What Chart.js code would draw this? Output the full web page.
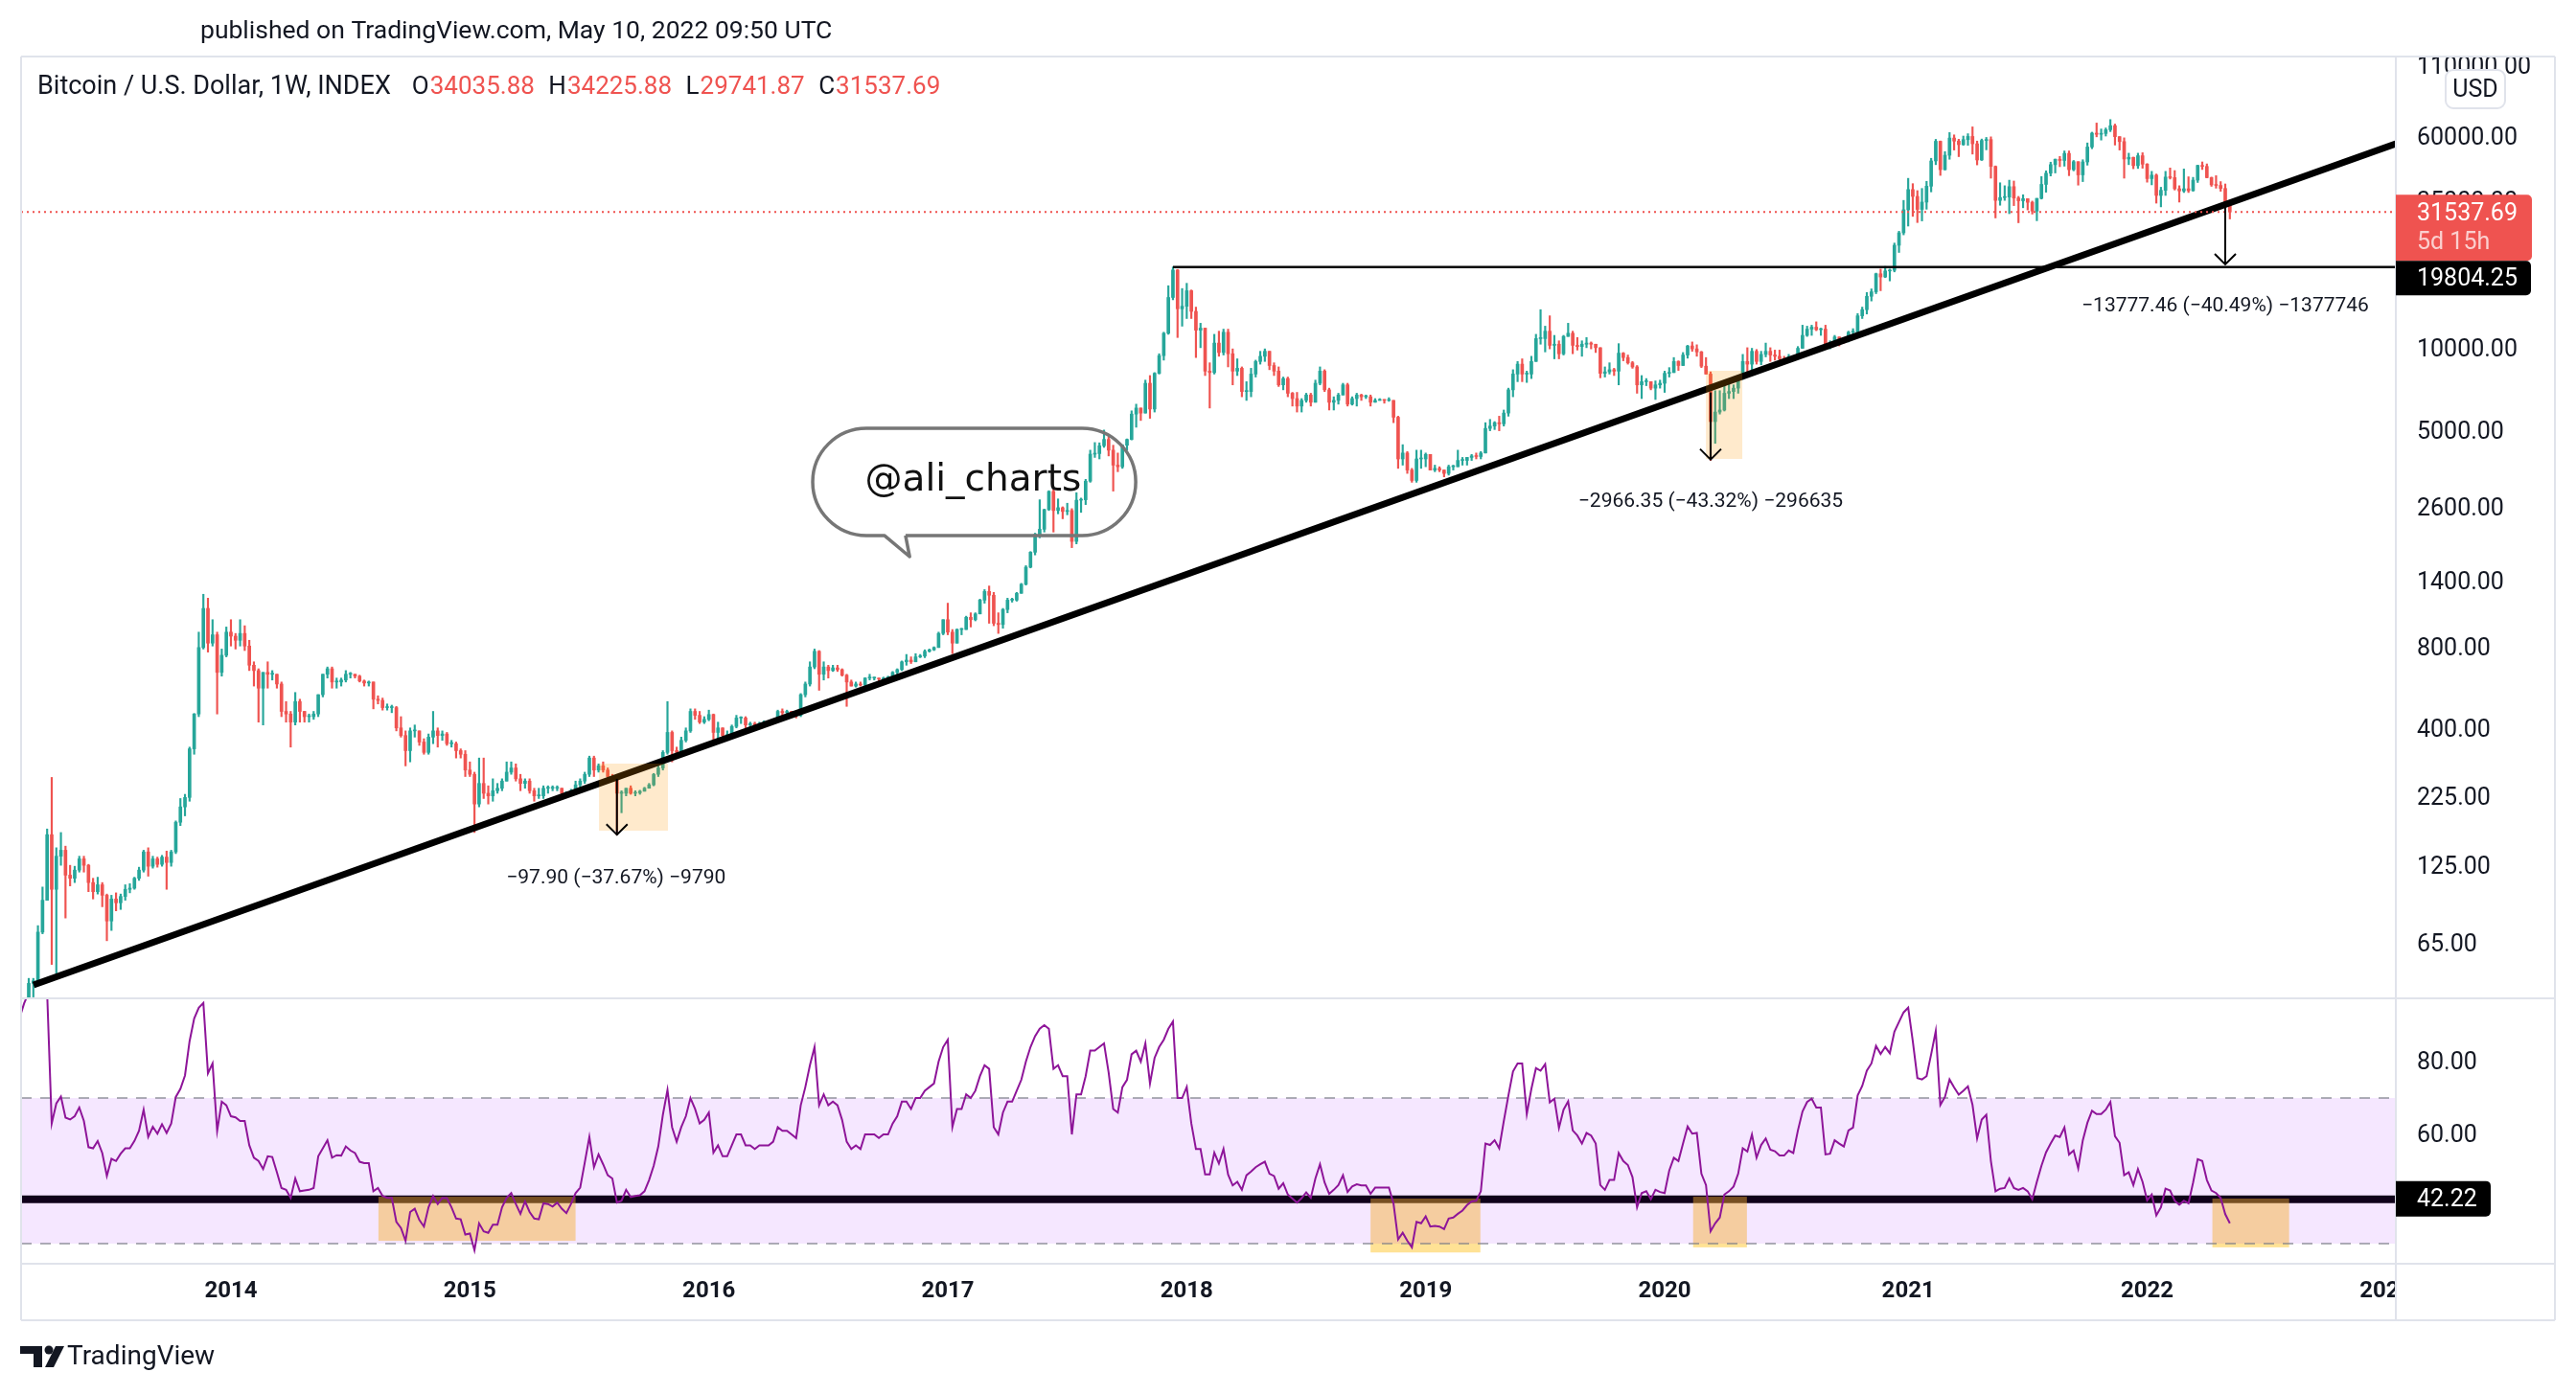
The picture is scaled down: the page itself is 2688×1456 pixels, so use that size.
<!DOCTYPE html>
<html>
<head>
<meta charset="utf-8">
<title>BTCUSD 1W</title>
<script src="https://cdn.jsdelivr.net/npm/chart.js@4.4.1/dist/chart.umd.min.js"></script>
<style>
  html, body { margin: 0; padding: 0; background: #fff; }
  #wrap { position: relative; width: 2688px; height: 1456px; }
  canvas { position: absolute; left: 0; }
  #price { top: 0; }
  #rsi { top: 1043px; }
</style>
</head>
<body>
<div id="wrap">
  <canvas id="price" width="2688" height="1043"></canvas>
  <canvas id="rsi" width="2688" height="413"></canvas>
</div>
<script>
// weekly candles, week 0 = 2013-03-04 ... week 479 = 2022-05-09
// open of a week = close of the week before
var firstOpen = 40;
var closes = [
  46,47,71,93,162,102,135,142,115,112,120,132,125,108,100,106,97,78,94,91,96,102,103,112,120,140,124,132,126,134,128,140,180,205,222,335,450,790,1100,820,880,640,740,900,
  870,840,890,800,680,650,560,640,630,630,580,460,450,420,500,460,440,440,450,530,630,660,590,590,600,630,630,620,595,585,590,510,505,475,475,475,400,375,330,390,390,355,325,370,390,375,380,350,350,330,320,280,
  270,210,250,230,225,235,240,255,275,285,260,250,255,235,225,225,240,240,240,240,230,232,233,247,255,270,310,280,290,280,265,260,230,230,240,230,231,234,240,247,270,285,325,385,330,325,360,390,460,445,420,430,
  448,385,400,375,375,405,435,435,410,415,410,415,420,420,430,460,455,460,455,445,530,580,670,765,630,670,650,665,655,625,590,570,580,575,610,610,610,605,610,615,640,655,700,710,700,730,735,765,775,790,890,1000,
  900,820,920,920,1020,1000,1050,1180,1270,1230,970,960,1090,1180,1180,1250,1350,1560,1770,2060,2150,2540,2960,2520,2580,2500,2520,1940,2750,2760,3230,4060,4080,4360,4600,4200,3700,3650,4380,4600,5700,6000,5750,7400,5950,8050,9350,11300,15300,19300,13900,14200,
  16200,13600,11600,11800,8200,8100,10400,9600,11400,9500,8200,8400,6900,6900,8000,8900,9300,9700,8600,8200,7300,7700,6800,6500,6100,6400,6700,6300,7400,8200,7000,6300,6400,6700,7300,6200,6500,6700,6600,6600,6300,6400,6450,6400,6400,5550,3900,4100,3550,3250,3900,3900,4050,
  3550,3600,3550,3450,3650,3650,3850,3850,3950,4000,3980,4100,5050,5150,5300,5250,5750,7000,8000,8700,8000,8000,8900,10800,10800,11500,10200,10300,9500,11000,11300,10200,10100,10300,10400,10300,10000,8050,8150,8300,8200,9550,9200,8800,8500,7300,7500,7500,7100,7300,7400,8050,
  8100,8900,8600,9400,10150,9900,9650,8550,8000,5350,5800,5900,6800,6900,7100,7700,8900,8700,9700,8900,9450,9700,9400,9300,9100,9050,9250,9200,9950,11100,11700,11900,11650,11700,10250,10350,10950,10750,10700,11400,11400,13100,13800,15450,16050,18700,18200,19150,19250,23800,26450,32150,
  38150,36000,32250,34300,39250,48600,57400,45150,51000,59000,57500,55800,58200,59800,56200,49000,57800,58250,46400,34800,35650,35800,39100,35500,34700,35300,34250,31800,35400,39850,43800,47100,49300,48800,51800,45150,48300,43200,48200,54700,61500,60900,61300,63300,65500,59700,57250,49400,50100,46700,50800,47300,
  41850,43100,36300,37900,42400,42200,38400,37700,38400,37800,41300,46800,46400,42200,39700,39500,38500,34035.88,31537.69
];
var highs = [
  48,48,75,104,170,263,145,165,147,125,124,135,135,126,112,113,108,98,97,99,98,106,107,113,123,142,145,135,134,136,141,142,182,220,228,340,452,900,1240,1200,1000,900,780,940,
  1000,890,1000,950,840,700,660,640,700,650,630,590,500,460,540,510,460,450,460,530,630,670,670,610,610,650,640,630,625,600,595,590,525,515,490,485,480,440,390,400,410,390,365,380,460,400,390,385,360,355,335,330,
  300,275,310,310,245,260,250,260,300,300,295,270,260,260,240,240,245,245,245,245,240,233,238,255,260,275,315,315,295,300,285,270,265,235,240,245,235,236,242,250,272,290,330,500,390,340,370,400,470,470,460,440,
  465,450,420,400,390,410,445,440,440,420,420,420,425,425,432,465,470,465,460,455,535,590,700,780,770,700,680,680,680,660,630,600,590,590,612,630,615,610,615,620,645,660,705,745,730,750,745,775,780,795,900,1000,
  1150,920,925,930,1030,1060,1060,1190,1290,1330,1260,1060,1100,1200,1200,1260,1360,1580,1780,2080,2760,2550,2980,3000,2780,2600,2680,2560,2930,2800,3280,4200,4480,4470,4980,4700,4380,4100,4400,4620,5860,6200,6000,7600,7900,8100,9500,11400,16900,19804,19400,16500,
  17250,16300,14100,12300,11800,8800,11200,11500,11700,11700,9900,9100,8500,7500,8400,9000,9700,9900,9600,8800,8500,7800,7800,6850,6850,6500,6800,6800,7600,8500,8300,7100,6600,6800,7400,7400,6600,6800,6750,6700,6700,6500,6500,6450,6550,6400,5600,4400,4150,3600,4200,4200,4100,
  4050,3700,3650,3550,3700,3700,4200,3950,3950,4050,4100,4150,5300,5450,5350,5600,5900,7100,8300,8900,9100,8200,9300,11200,13800,12000,13100,11100,10600,11100,12300,11500,10900,10600,10900,10500,10300,10000,8500,8800,8400,10350,9600,9400,8900,8600,7900,7700,7500,7550,7600,8200,
  8450,9200,8950,9600,10200,10500,10250,9700,9200,8150,6950,6950,7300,7450,7300,7800,9450,10000,9950,9850,9700,10400,10000,9800,9800,9300,9450,9300,10100,12100,12000,12100,12450,11800,12100,10600,11100,10800,10900,11500,11750,13350,14100,15950,16450,18800,19450,19900,19450,24250,26800,34800,
  41950,40100,37800,38500,40900,49700,58350,57550,52600,61800,60600,58400,60000,61200,64850,57500,58500,59300,59600,46600,40400,39400,41300,41000,36000,36500,35100,34600,35400,42600,44700,48100,49400,50500,52900,52900,48800,48300,49100,56600,62000,67000,63700,64250,69000,66400,59500,59100,51900,50200,51900,52100,
  47550,44500,43500,38900,44500,45800,44800,39400,45400,42500,42300,46900,48200,47400,42400,42900,40800,40000,34225.88
];
var lows = [
  38,41,47,70,93,54,50,125,80,105,108,118,118,100,94,98,88,66,72,85,86,93,99,102,110,118,114,122,123,124,102,124,138,175,190,215,320,440,780,760,800,450,620,730,
  800,780,800,770,650,570,420,410,560,600,560,440,420,340,410,420,420,420,430,440,520,610,560,560,570,590,610,610,590,570,570,470,490,465,465,455,390,370,290,300,370,345,320,320,350,340,360,345,340,310,310,265,
  265,165,205,220,210,215,230,235,255,270,255,235,240,230,215,220,220,230,235,235,225,222,228,230,240,250,265,265,275,275,260,255,162,195,225,228,225,228,235,240,245,265,280,320,300,315,315,355,385,430,415,415,
  425,360,365,365,365,370,400,415,400,400,405,410,410,415,420,430,440,440,445,435,440,520,570,660,550,600,610,645,645,620,480,570,565,570,570,600,600,590,600,605,615,630,650,680,690,700,725,725,760,770,790,880,
  880,750,830,880,920,940,990,1050,1150,970,950,890,930,1060,1160,1170,1250,1340,1550,1730,2000,2100,2520,2100,2450,2350,2430,1840,1900,2480,2650,3200,3950,3900,4300,4000,2970,3500,3600,4200,4580,5100,5400,6100,5500,5800,8000,9000,11200,15000,10900,12000,
  12800,12800,9200,10000,7900,6000,8000,9300,9400,8500,7300,7900,6600,6400,6600,7800,8700,8900,8300,7900,7200,7000,6600,6100,5800,5800,6300,6100,6300,7300,6900,5900,5900,6200,6700,6100,6150,6100,6400,6500,6100,6300,6400,6250,6350,5300,3600,3700,3450,3200,3200,3600,3650,
  3550,3500,3500,3350,3400,3550,3650,3700,3700,3850,3900,3900,4100,4950,5000,4950,5150,5600,6600,7500,7500,7450,7700,8950,10300,9650,9900,9100,9100,9400,11200,9500,9800,9300,10000,9900,9600,7750,7800,8000,7900,7300,8950,8700,8400,6800,6500,7250,7000,6450,7100,6850,
  7800,8100,8250,8600,9150,9700,9300,8450,8000,3850,4450,5700,5850,6500,6500,6800,7650,8100,8200,8700,8650,9250,8900,9000,8850,8900,9000,9050,9150,9950,11000,11100,11550,11100,9900,9900,10200,10150,10400,10500,11200,11300,12800,13300,14850,15800,16200,18100,17600,19000,22400,26000,
  28000,30400,28850,29250,32300,37400,47100,43000,45000,49300,53300,50400,55500,55500,51500,47000,48800,53400,42000,30000,33400,34800,31100,33300,28800,32700,32100,31000,29300,35200,37300,42800,43900,46300,46500,42900,44700,39600,40800,46900,53900,59600,58000,60000,62300,55600,53300,42000,47100,45500,45600,45700,
  40600,39700,34000,32950,36300,41700,38000,34300,37200,37200,37600,40500,45200,42100,39200,38600,37600,33700,29741.87
];

var rsiFirstWeek = -2;
var rsiValues = [
  92,96,99,99,99,99,99,
  63,68.5,70.4,64.6,64.1,65,67.4,63.7,56.5,56.2,58.2,54.9,48.6,53.3,52.7,54.7,56.2,56.2,58.2,61,
  66.8,59.3,62.1,60.2,62.8,60.4,63,70.3,72.5,76.2,85.6,91.8,94.8,96.1,76.8,79.5,61,69,68,65,
  64.7,63.7,63.7,57,53.6,52.7,50.5,54,53.8,49.6,45.3,44.8,42.6,47.9,44.4,44.6,44.8,45.3,54,56.2,
  58.4,53.6,54.3,54.2,56.7,55.6,54.9,52.5,52.1,52.1,44.4,45.3,43.1,42.6,42.6,36,34.3,30.8,38.7,39.6,
  36.5,34.7,40,43.1,40.9,42.6,42.5,40,36.9,36.7,32.5,32.8,28.2,35.6,33.4,33,35.2,35.2,40,42.6,
  43.9,40.9,38.2,41.6,38.7,36.9,36.7,41.1,40.9,40.2,41.3,39.6,38.4,40.9,43.9,45.4,52.3,59.3,51,54.5,
  51.8,48.8,47.9,41.3,41.8,44.8,42.8,43.1,43.3,44.4,47.5,51.4,56.7,65.4,72.2,
  62,58,62,65,70,67,63,64,66,55,57,54,54,57,60,60,57,57,56,57,
  57,57,58,62,61,61,60,59,68,73,79,84,68,71,68,69,68,64,58,56,
  57,56,60,60,60,59,60,60,63,65,69,69,67,70,70,72,73,74,80,84,
  86,62,67,67,71,70,72,76,79,78,62,60,66,69,69,72,75,80,84,87,
  89,90,89,78,79,76,76,60,71,71,76,83,83,84,85,77,67,66,73,75,
  82,83,80,85,74,81,84,86,89,91,70,70,73,63,56,56,49,49,55,52,
  56,49,46,47,
  44.8,48.8,49.8,51,51.8,52.5,49.2,48.6,45.1,46.6,43.5,42.4,41.3,42.5,44.1,42.6,47.9,51.8,46.8,43.7,
  44.8,46.1,48.8,44.2,45.7,46.3,46,46,43.7,45.4,45.4,45.4,45.4,41,31.2,33,30.8,29,36,35.6,
  37.5,34.7,34.9,34.7,34,36.9,37.2,38.2,39.1,40.6,41.6,41.8,44.4,57.5,57.1,58.4,56.2,63.7,70.7,77.3,
  79.5,79.5,65.6,72.5,78.2,77.5,79.3,68.8,69.8,61.8,66.8,69.1,61.1,59.7,57.5,60.4,59.7,57.5,46.1,44.8,
  47.5,47.5,54.9,52.7,51.6,48.3,40,43.9,44.4,42.2,44.8,44.2,43.9,50.1,53.6,52.7,57.5,62.2,60.2,60.4,
  49.2,46.1,33.4,35.6,37.2,43.5,44.4,45.7,49.2,56.2,55.3,60,53.6,57.1,58.9,55.8,55.4,54.2,54.2,55.6,
  54.9,61.1,66.3,68.9,69.8,67.4,67.4,54.5,54.7,58.4,57.5,56.7,61.1,61.9,70.7,73.3,77.5,79.5,84.3,82.1,
  84,82.3,88.2,90.9,93.5,94.8,85.6,75.5,75.1,76,82,88.4,68.1,70.3,75.1,72.9,70.9,72,73.2,68.1,
  58.9,64.1,65.4,52.7,44.4,45.1,45.3,47.9,45.3,44.8,45.3,44.4,42.2,47,51.4,55.1,57.5,59.7,59.3,61.9,
  54.5,55.6,50.7,58.4,63.2,66.5,65.6,65.6,66.8,68.9,59.5,57.7,48.8,49.6,46.1,50.5,47,41.9,43.5,37.8,
  40,45.1,44.6,41.8,40.7,41.8,41.1,46.8,53.2,52.7,47.5,44.6,43.9,42.6,38.1,35.6
];

// axis ticks
var yearTickWeeks = [44, 96, 148, 200, 252, 304, 356, 409, 461, 513];
var yearTickLabels = ['2014', '2015', '2016', '2017', '2018', '2019', '2020', '2021', '2022', '2023'];
var priceTicks = [65, 125, 225, 400, 800, 1400, 2600, 5000, 10000, 35000, 60000, 110000];
var rsiTicks = [60, 80];

// drawings (week index, price)
var trendLine = [{x: 1.04, y: 45.4}, {x: 515.12, y: 56200}];
var peakLevel = 19804.25;
var peakLine = [{x: 249, y: peakLevel}, {x: 515.12, y: peakLevel}];
var priceBoxes = [[124.1, 139.1, 295.7, 167.6], [365.0, 372.9, 8225, 3901]];
var rangeArrows = [[128, 259.9, 162.0], [366, 6847.5, 3881.2], [478, 34026, 20249]];
var rangeTexts = [
  [127.8, 111.8, '\u221297.90 (\u221237.67%) \u22129790'],
  [366, 2707, '\u22122966.35 (\u221243.32%) \u2212296635'],
  [478, 14160, '\u221213777.46 (\u221240.49%) \u22121377746']
];
var callout = {left: 170.6, right: 240.9, top: 5056, bottom: 2039, tailL: 186.2, tailR: 190.8, tipX: 191.7, tipY: 1705, textX: 205.5, textY: 3236, text: '@ali_charts'};
var rsiLevel = 42.22;
var rsiBoxes = [[76.1, 119.0, 42.9, 30.8], [292.0, 315.9, 42.4, 27.6], [362.2, 373.9, 42.9, 29.0], [475.2, 491.9, 42.4, 29.0]];

var xMin = -1.668, xMax = 515.12;
var GRID = '#e0e3eb', TXT = '#131722', UP = '#26a69a', DOWN = '#ef5350';
var FONT = 'Roboto, "Liberation Sans", sans-serif';
Chart.defaults.font.family = FONT;

var opens = closes.map(function (c, i) { return i === 0 ? firstOpen : closes[i - 1]; });
var candleColor = closes.map(function (c, i) { return c >= opens[i] ? UP : DOWN; });
var wickData = closes.map(function (c, i) {
  return {x: i, y: [Math.min(lows[i], opens[i], c), Math.max(highs[i], opens[i], c)]};
});
var bodyData = closes.map(function (c, i) { return {x: i, y: [opens[i], c]}; });
var rsiData = rsiValues.map(function (v, k) { return {x: rsiFirstWeek + k, y: v}; });
var last = closes.length - 1;

function line(ctx, x0, y0, x1, y1) { ctx.beginPath(); ctx.moveTo(x0, y0); ctx.lineTo(x1, y1); ctx.stroke(); }
function rbox(ctx, x, y, w, h, r) {
  ctx.beginPath();
  ctx.moveTo(x, y); ctx.lineTo(x + w - r, y); ctx.arcTo(x + w, y, x + w, y + r, r);
  ctx.lineTo(x + w, y + h - r); ctx.arcTo(x + w, y + h, x + w - r, y + h, r);
  ctx.lineTo(x, y + h); ctx.closePath();
}

var pricePlugin = {
  id: 'pricePlugin',
  afterDatasetsDraw: function (chart) {
    var ctx = chart.ctx, a = chart.chartArea, xs = chart.scales.x, ys = chart.scales.y;
    ctx.save();
    ctx.beginPath(); ctx.rect(a.left, a.top, a.right - a.left, a.bottom - a.top); ctx.clip();

    ctx.fillStyle = 'rgba(255,152,0,0.2)';
    priceBoxes.forEach(function (b) {
      var x0 = xs.getPixelForValue(b[0]), x1 = xs.getPixelForValue(b[1]);
      var y0 = ys.getPixelForValue(b[2]), y1 = ys.getPixelForValue(b[3]);
      ctx.fillRect(x0, y0, x1 - x0, y1 - y0);
    });

    // last price line
    var py = ys.getPixelForValue(closes[last]);
    ctx.strokeStyle = DOWN; ctx.lineWidth = 2; ctx.setLineDash([2, 4]);
    line(ctx, a.left, py, a.right, py);
    ctx.setLineDash([]);

    // price range arrows
    ctx.strokeStyle = '#000'; ctx.lineWidth = 2;
    rangeArrows.forEach(function (r) {
      var x = xs.getPixelForValue(r[0]), y0 = ys.getPixelForValue(r[1]), y1 = ys.getPixelForValue(r[2]);
      line(ctx, x, y0, x, y1);
      ctx.beginPath(); ctx.moveTo(x - 11, y1 - 11); ctx.lineTo(x, y1); ctx.lineTo(x + 11, y1 - 11); ctx.stroke();
    });

    ctx.fillStyle = TXT; ctx.font = '21px ' + FONT; ctx.textAlign = 'center'; ctx.textBaseline = 'middle';
    rangeTexts.forEach(function (t) {
      ctx.fillText(t[2], xs.getPixelForValue(t[0]), ys.getPixelForValue(t[1]));
    });

    // callout bubble
    var c = callout;
    var x0 = xs.getPixelForValue(c.left), x1 = xs.getPixelForValue(c.right);
    var y0 = ys.getPixelForValue(c.top), y1 = ys.getPixelForValue(c.bottom);
    var r = (y1 - y0) / 2;
    var bl = xs.getPixelForValue(c.tailL), br = xs.getPixelForValue(c.tailR);
    ctx.strokeStyle = '#767676'; ctx.lineWidth = 3.5; ctx.lineJoin = 'round';
    ctx.beginPath();
    ctx.moveTo(br, y1);
    ctx.lineTo(x1 - r, y1);
    ctx.arc(x1 - r, y0 + r, r, Math.PI / 2, -Math.PI / 2, true);
    ctx.lineTo(x0 + r, y0);
    ctx.arc(x0 + r, y0 + r, r, -Math.PI / 2, Math.PI / 2, true);
    ctx.lineTo(bl, y1);
    ctx.lineTo(xs.getPixelForValue(c.tipX), ys.getPixelForValue(c.tipY));
    ctx.lineTo(br, y1);
    ctx.stroke();
    ctx.fillStyle = '#111';
    ctx.font = '39px "DejaVu Sans", sans-serif';
    ctx.fillText(c.text, xs.getPixelForValue(c.textX), ys.getPixelForValue(c.textY));
    ctx.restore();
  },
  afterDraw: function (chart) {
    var ctx = chart.ctx, a = chart.chartArea, ys = chart.scales.y;
    ctx.save();
    ctx.strokeStyle = GRID; ctx.lineWidth = 2;
    line(ctx, 22, 59, 2666, 59);
    line(ctx, 22, 59, 22, 1043);
    line(ctx, a.right, 59, a.right, 1043);
    line(ctx, 2666, 59, 2666, 1043);
    line(ctx, 22, 1042, 2666, 1042);

    ctx.textBaseline = 'middle'; ctx.textAlign = 'left';
    ctx.fillStyle = TXT; ctx.font = '26.5px ' + FONT;
    ctx.fillText('published on TradingView.com, May 10, 2022 09:50 UTC', 209, 33);

    // legend line
    var x = 39;
    var head = 'Bitcoin / U.S. Dollar, 1W, INDEX';
    ctx.font = '27px ' + FONT;
    ctx.fillText(head, x, 91);
    x += ctx.measureText(head).width + 22;
    ctx.font = '26px ' + FONT;
    var parts = [['O', opens[last]], ['H', highs[last]], ['L', lows[last]], ['C', closes[last]]];
    parts.forEach(function (p) {
      ctx.fillStyle = TXT; ctx.fillText(p[0], x, 91);
      x += ctx.measureText(p[0]).width + 1;
      var s = p[1].toFixed(2);
      ctx.fillStyle = DOWN; ctx.fillText(s, x, 91);
      x += ctx.measureText(s).width + 14.5;
    });

    // axis labels
    var py = ys.getPixelForValue(closes[last]);
    ctx.font = '25px ' + FONT;
    ctx.fillStyle = DOWN; rbox(ctx, a.right, py - 18, 142, 69, 5); ctx.fill();
    ctx.fillStyle = '#fff'; ctx.fillText(closes[last].toFixed(2), 2522, py + 2);
    ctx.fillStyle = 'rgba(255,255,255,0.72)'; ctx.fillText('5d 15h', 2522, py + 32);
    ctx.fillStyle = '#000'; rbox(ctx, a.right, py + 51, 141, 36, 5); ctx.fill();
    ctx.fillStyle = '#fff'; ctx.fillText(peakLevel.toFixed(2), 2522, py + 70);

    // currency badge
    ctx.fillStyle = '#fff'; ctx.strokeStyle = GRID; ctx.lineWidth = 2;
    ctx.beginPath(); ctx.moveTo(2560, 73); ctx.arcTo(2614, 73, 2614, 113, 8); ctx.arcTo(2614, 113, 2552, 113, 8);
    ctx.arcTo(2552, 113, 2552, 73, 8); ctx.arcTo(2552, 73, 2614, 73, 8); ctx.closePath();
    ctx.fill(); ctx.stroke();
    ctx.fillStyle = TXT; ctx.textAlign = 'center'; ctx.fillText('USD', 2583, 95);
    ctx.restore();
  }
};

var rsiPlugin = {
  id: 'rsiPlugin',
  beforeDatasetsDraw: function (chart) {
    var ctx = chart.ctx, a = chart.chartArea, xs = chart.scales.x, ys = chart.scales.y;
    ctx.save();
    ctx.beginPath(); ctx.rect(a.left, a.top, a.right - a.left, a.bottom - a.top); ctx.clip();
    var ly = ys.getPixelForValue(rsiLevel);
    ctx.strokeStyle = '#000'; ctx.lineWidth = 8;
    line(ctx, a.left, ly, a.right, ly);
    ctx.fillStyle = 'rgba(255,190,20,0.45)';
    rsiBoxes.forEach(function (b) {
      var x0 = xs.getPixelForValue(b[0]), x1 = xs.getPixelForValue(b[1]);
      var y0 = ys.getPixelForValue(b[2]), y1 = ys.getPixelForValue(b[3]);
      ctx.fillRect(x0, y0, x1 - x0, y1 - y0);
    });
    var y70 = ys.getPixelForValue(70), y30 = ys.getPixelForValue(30);
    ctx.fillStyle = 'rgba(153,21,255,0.1)';
    ctx.fillRect(a.left, y70, a.right - a.left, y30 - y70);
    ctx.strokeStyle = 'rgba(120,123,134,0.6)'; ctx.lineWidth = 2; ctx.setLineDash([11, 9]);
    line(ctx, a.left, y70, a.right, y70);
    line(ctx, a.left, y30, a.right, y30);
    ctx.restore();
  },
  afterDraw: function (chart) {
    var ctx = chart.ctx, a = chart.chartArea, ys = chart.scales.y;
    ctx.save();
    // hide the part of the last year label under the price scale
    ctx.fillStyle = '#fff';
    ctx.fillRect(a.right + 1, a.bottom + 1, 2665 - a.right - 1, 57);
    ctx.strokeStyle = GRID; ctx.lineWidth = 2;
    line(ctx, 22, 0, 22, 335);
    line(ctx, a.right, 0, a.right, 335);
    line(ctx, 2666, 0, 2666, 335);
    line(ctx, 22, a.bottom, 2666, a.bottom);
    line(ctx, 22, 335, 2666, 335);

    var ly = ys.getPixelForValue(rsiLevel);
    ctx.fillStyle = '#000'; rbox(ctx, a.right, ly - 19, 99, 37, 5); ctx.fill();
    ctx.fillStyle = '#fff'; ctx.font = '25px ' + FONT; ctx.textBaseline = 'middle'; ctx.textAlign = 'left';
    ctx.fillText(rsiLevel.toFixed(2), 2522, ly + 1);

    // TradingView logo
    var oy = -1043;
    ctx.fillStyle = TXT;
    ctx.fillRect(21, 1405 + oy, 23, 8);
    ctx.fillRect(35, 1405 + oy, 9, 22);
    ctx.beginPath(); ctx.arc(51, 1409 + oy, 4.5, 0, Math.PI * 2); ctx.fill();
    ctx.beginPath();
    ctx.moveTo(47, 1427 + oy); ctx.lineTo(58, 1405 + oy); ctx.lineTo(67, 1405 + oy); ctx.lineTo(56, 1427 + oy);
    ctx.closePath(); ctx.fill();
    ctx.font = '28px ' + FONT;
    ctx.fillText('TradingView', 70, 1417 + oy);
    ctx.restore();
  }
};

// fixed price-scale width, no extra label padding inside the panes
function fixY(s) { s.width = 166; s.paddingTop = 0; s.paddingBottom = 0; }

new Chart(document.getElementById('price'), {
  type: 'bar',
  data: {
    datasets: [
      {type: 'line', data: trendLine, borderColor: '#000', borderWidth: 7, pointRadius: 0, order: 1},
      {type: 'line', data: peakLine, borderColor: '#000', borderWidth: 2.5, pointRadius: 0, order: 2},
      {data: bodyData, backgroundColor: candleColor, barThickness: 3, minBarLength: 1, grouped: false, order: 3},
      {data: wickData, backgroundColor: candleColor, barThickness: 1.5, grouped: false, order: 4}
    ]
  },
  options: {
    responsive: false, animation: false, events: [],
    layout: {padding: {top: 59, left: 22, right: 22, bottom: 0}},
    plugins: {legend: {display: false}, tooltip: {enabled: false}},
    scales: {
      x: {type: 'linear', display: false, min: xMin, max: xMax, offset: false},
      y: {
        type: 'logarithmic', position: 'right', min: 40.2, max: 117640,
        grid: {display: false, drawTicks: false}, border: {display: false},
        afterBuildTicks: function (s) { s.ticks = priceTicks.map(function (v) { return {value: v}; }); },
        afterFit: fixY,
        ticks: {padding: 22, labelOffset: 3, color: TXT, font: {size: 25}, autoSkip: false,
          callback: function (v) { return Number(v).toFixed(2); }}
      }
    }
  },
  plugins: [pricePlugin]
});

new Chart(document.getElementById('rsi'), {
  type: 'line',
  data: {
    datasets: [
      {data: rsiData, borderColor: '#8e1599', borderWidth: 2, pointRadius: 0, tension: 0}
    ]
  },
  options: {
    responsive: false, animation: false, events: [],
    layout: {padding: {top: 0, left: 22, right: 22, bottom: 78}},
    plugins: {legend: {display: false}, tooltip: {enabled: false}},
    scales: {
      x: {
        type: 'linear', min: xMin, max: xMax, offset: false,
        grid: {display: false, drawTicks: false}, border: {display: false},
        afterBuildTicks: function (s) { s.ticks = yearTickWeeks.map(function (v) { return {value: v}; }); },
        afterFit: function (s) { s.height = 59; s.paddingLeft = 0; s.paddingRight = 0; },
        ticks: {autoSkip: false, maxRotation: 0, padding: 15, color: TXT, font: {size: 24, weight: 'bold'},
          callback: function (v) { var k = yearTickWeeks.indexOf(v); return k >= 0 ? yearTickLabels[k] : ''; }}
      },
      y: {
        type: 'linear', position: 'right', min: 24.5, max: 97.1,
        grid: {display: false, drawTicks: false}, border: {display: false},
        afterBuildTicks: function (s) { s.ticks = rsiTicks.map(function (v) { return {value: v}; }); },
        afterFit: fixY,
        ticks: {padding: 22, labelOffset: 1.5, color: TXT, font: {size: 25}, callback: function (v) { return Number(v).toFixed(2); }}
      }
    }
  },
  plugins: [rsiPlugin]
});
</script>
</body>
</html>
